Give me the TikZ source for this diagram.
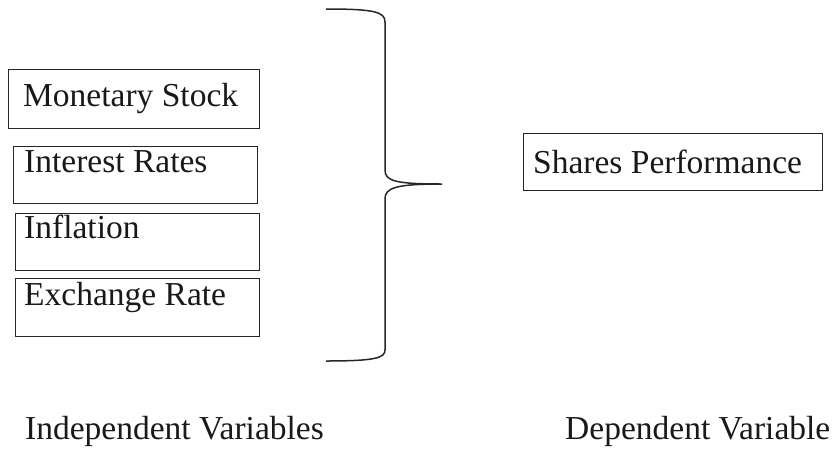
\documentclass[tikz,border=0pt]{standalone}
\usepackage{fontspec}
\setmainfont{Liberation Serif}
\begin{document}
\begin{tikzpicture}[x=1pt,y=-1pt,
  varbox/.style={draw=black!85, line width=1.4pt, rectangle, inner sep=0pt, anchor=north west},
  lbl/.style={inner sep=0pt, anchor=base west, font=\fontsize{33.5}{40}\selectfont, text=black!90},
  bracepath/.style={draw=black!85, line width=1.5pt}]
\useasboundingbox (0,0) rectangle (836,448);
% independent variable boxes
\node[varbox, minimum width=251pt, minimum height=59pt] (ms) at (8,69) {};
\node[varbox, minimum width=244pt, minimum height=57pt] (ir) at (13,146) {};
\node[varbox, minimum width=244pt, minimum height=57pt] (inf) at (15,213) {};
\node[varbox, minimum width=244pt, minimum height=58pt] (er) at (15,278) {};
\node[lbl] (mst) at (23,106) {Monetary Stock};
\node[lbl] (irt) at (24,172) {Interest Rates};
\node[lbl] (inft) at (24,238) {Inflation};
\node[lbl] (ert) at (24,305) {Exchange Rate};
% dependent variable box
\node[varbox, minimum width=299pt, minimum height=57pt] (sp) at (523,133) {};
\node[lbl] (spt) at (533,173) {Shares Performance};
% brace
\coordinate (btop) at (326,9);
\coordinate (btip) at (442,184);
\coordinate (bbot) at (326,361);
\path[bracepath] (btop) .. controls (375,9) and (385,12) .. (385,22)
  -- (385,170) .. controls (385,181) and (395,184) .. (btip)
  .. controls (395,184) and (385,188) .. (385,199)
  -- (385,350) .. controls (385,358) and (375,361) .. (bbot);
% captions
\node[lbl] (iv) at (25,439) {Independent Variables};
\node[lbl] (dv) at (565,439) {Dependent Variable};
\end{tikzpicture}
\end{document}
